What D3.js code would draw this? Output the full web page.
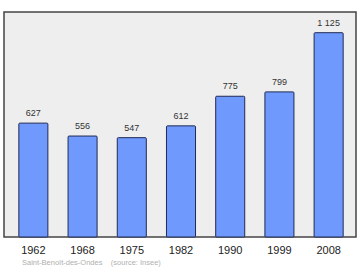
<!DOCTYPE html>
<html>
<head>
<meta charset="utf-8">
<script src="https://cdn.jsdelivr.net/npm/d3@7"></script>
<style>
  body { margin: 0; background: #fff; }
  text { font-family: "Liberation Sans", Arial, sans-serif; }
</style>
</head>
<body>
<div id="chart"></div>
<script>
// population by census year
const years = ["1962", "1968", "1975", "1982", "1990", "1999", "2008"];
const population = [627, 556, 547, 612, 775, 799, 1125];
const valueLabels = ["627", "556", "547", "612", "775", "799", "1 125"];

const W = 360, H = 270;
const box = { left: 4, top: 12, right: 356, bottom: 237 };

const svg = d3.select("#chart").append("svg")
  .attr("width", W)
  .attr("height", H);

// plot frame
svg.append("rect")
  .attr("x", box.left)
  .attr("y", box.top)
  .attr("width", box.right - box.left)
  .attr("height", box.bottom - box.top)
  .attr("fill", "#eeeeee")
  .attr("stroke", "#444")
  .attr("stroke-width", 1.5);

const x = d3.scaleBand()
  .domain(years)
  .range([9, 353])
  .paddingInner(0.41)
  .paddingOuter(0.2);

const y = d3.scaleLinear()
  .domain([0, 1239])
  .range([box.bottom, box.top]);

const data = years.map((yr, i) => ({ year: yr, value: population[i], label: valueLabels[i] }));

// bars
svg.selectAll("rect.bar")
  .data(data)
  .enter()
  .append("rect")
    .attr("class", "bar")
    .attr("x", d => x(d.year))
    .attr("y", d => y(d.value))
    .attr("width", x.bandwidth())
    .attr("height", d => y(0) - y(d.value))
    .attr("rx", 1)
    .attr("fill", "#7099fd")
    .attr("stroke", "#1f2a55")
    .attr("stroke-width", 1);

// value labels
svg.selectAll("text.val")
  .data(data)
  .enter()
  .append("text")
    .attr("class", "val")
    .attr("x", d => x(d.year) + x.bandwidth() / 2)
    .attr("y", d => y(d.value) - 7)
    .attr("text-anchor", "middle")
    .style("font-size", "9px")
    .style("fill", "#333")
    .text(d => d.label);

// year axis
const axis = svg.append("g")
  .attr("transform", `translate(0,${box.bottom})`)
  .call(d3.axisBottom(x).tickSize(0).tickPadding(9));
axis.select(".domain").remove();
axis.selectAll("text")
  .style("font-size", "11px")
  .style("font-family", "'Liberation Sans', Arial, sans-serif")
  .style("fill", "#222");

// source note
svg.append("text")
  .attr("x", 22)
  .attr("y", 265)
  .style("font-size", "7.5px")
  .style("fill", "#b0b0b0")
  .style("white-space", "pre")
  .text("Saint-Benoît-des-Ondes    (source: Insee)");
</script>
</body>
</html>
